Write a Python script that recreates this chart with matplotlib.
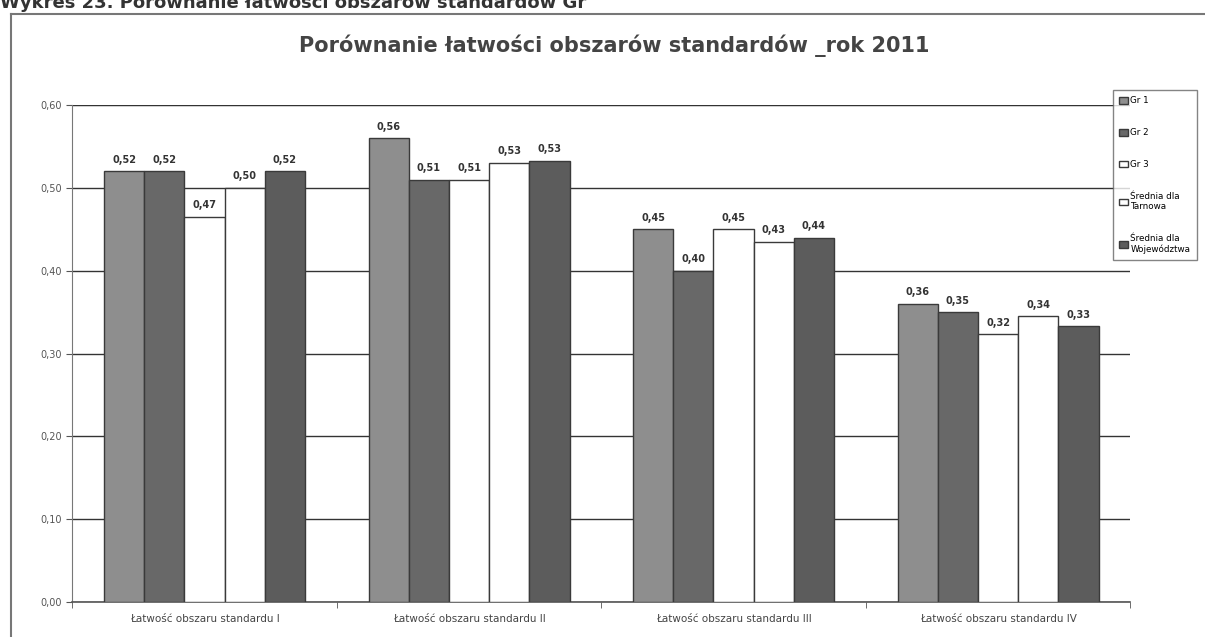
import matplotlib.pyplot as plt
import numpy as np

categories = ["Łatwość obszaru standardu I", "Łatwość obszaru standardu II",
              "Łatwość obszaru standardu III", "Łatwość obszaru standardu IV"]
series_names = ["Gr 1", "Gr 2", "Gr 3", "Średnia dla\nTarnowa", "Średnia dla\nWojewództwa"]
gr1 = [0.52, 0.56, 0.45, 0.36]
gr2 = [0.52, 0.51, 0.40, 0.35]
gr3 = [0.465, 0.51, 0.45, 0.323]
sr_tarnow = [0.50, 0.53, 0.435, 0.345]
sr_woj = [0.52, 0.533, 0.44, 0.333]
series = [gr1, gr2, gr3, sr_tarnow, sr_woj]
colors = ["#8e8e8e", "#686868", "#ffffff", "#ffffff", "#5c5c5c"]

fig = plt.figure(figsize=(12.05, 6.37), dpi=100)
ax = fig.add_axes([0.06, 0.055, 0.878, 0.78])

x = np.arange(len(categories))
w = 0.152
for i, (vals, name, c) in enumerate(zip(series, series_names, colors)):
    pos = x + (i - 2) * w
    bars = ax.bar(pos, vals, w, color=c, edgecolor="#3a3a3a", linewidth=1.0,
                  label=name, zorder=3)
    for b, v in zip(bars, vals):
        ax.text(b.get_x() + b.get_width() / 2, v + 0.008, f"{v:.2f}".replace(".", ","),
                ha="center", va="bottom", fontsize=7, color="#333333",
                fontweight="bold", zorder=4)

ax.set_xlim(-0.5, 3.5)
ax.set_ylim(0, 0.6)
ax.set_yticks(np.arange(0, 0.61, 0.1))
ax.set_yticklabels([f"{t:.2f}".replace(".", ",") for t in np.arange(0, 0.61, 0.1)],
                   fontsize=7, color="#555555")
ax.set_xticks(x)
ax.set_xticklabels(categories, fontsize=7.5, color="#444444")
ax.set_xticks(np.arange(-0.5, 4, 1), minor=True)
ax.tick_params(axis="x", which="major", length=0, pad=9)
ax.tick_params(axis="x", which="minor", length=4, color="#555555")
ax.tick_params(axis="y", length=4, color="#555555")
ax.yaxis.grid(True, color="#333333", linewidth=1.0, zorder=0)
for s in ["top", "right"]:
    ax.spines[s].set_visible(False)
ax.spines["left"].set_color("#777777")
ax.spines["bottom"].set_color("#555555")
ax.spines["bottom"].set_linewidth(1.2)
ax.axhline(0.6, color="#444444", linewidth=1.5, zorder=1)

leg = fig.legend(loc="upper left", bbox_to_anchor=(0.920, 0.865), fontsize=6.3,
                 frameon=True, fancybox=False, edgecolor="#666666",
                 handlelength=1.0, handleheight=0.8, labelspacing=2.6,
                 borderpad=0.7, handletextpad=0.3)
leg.get_frame().set_linewidth(1.0)

fig.text(0.51, 0.928, "Porównanie łatwości obszarów standardów _rok 2011",
         ha="center", va="center", fontsize=15, fontweight="bold", color="#444444")
fig.text(0.0, 0.995, "Wykres 23. Porównanie łatwości obszarów standardów Gr",
         ha="left", va="center", fontsize=13, fontweight="bold", color="#333333")

# outer frame of the pasted chart
fig.add_artist(plt.Line2D([0.009, 0.009], [0.0, 0.978], color="#777777", linewidth=1.5))
fig.add_artist(plt.Line2D([0.009, 1.0], [0.978, 0.978], color="#777777", linewidth=1.5))

fig.savefig("out.png", dpi=100)
